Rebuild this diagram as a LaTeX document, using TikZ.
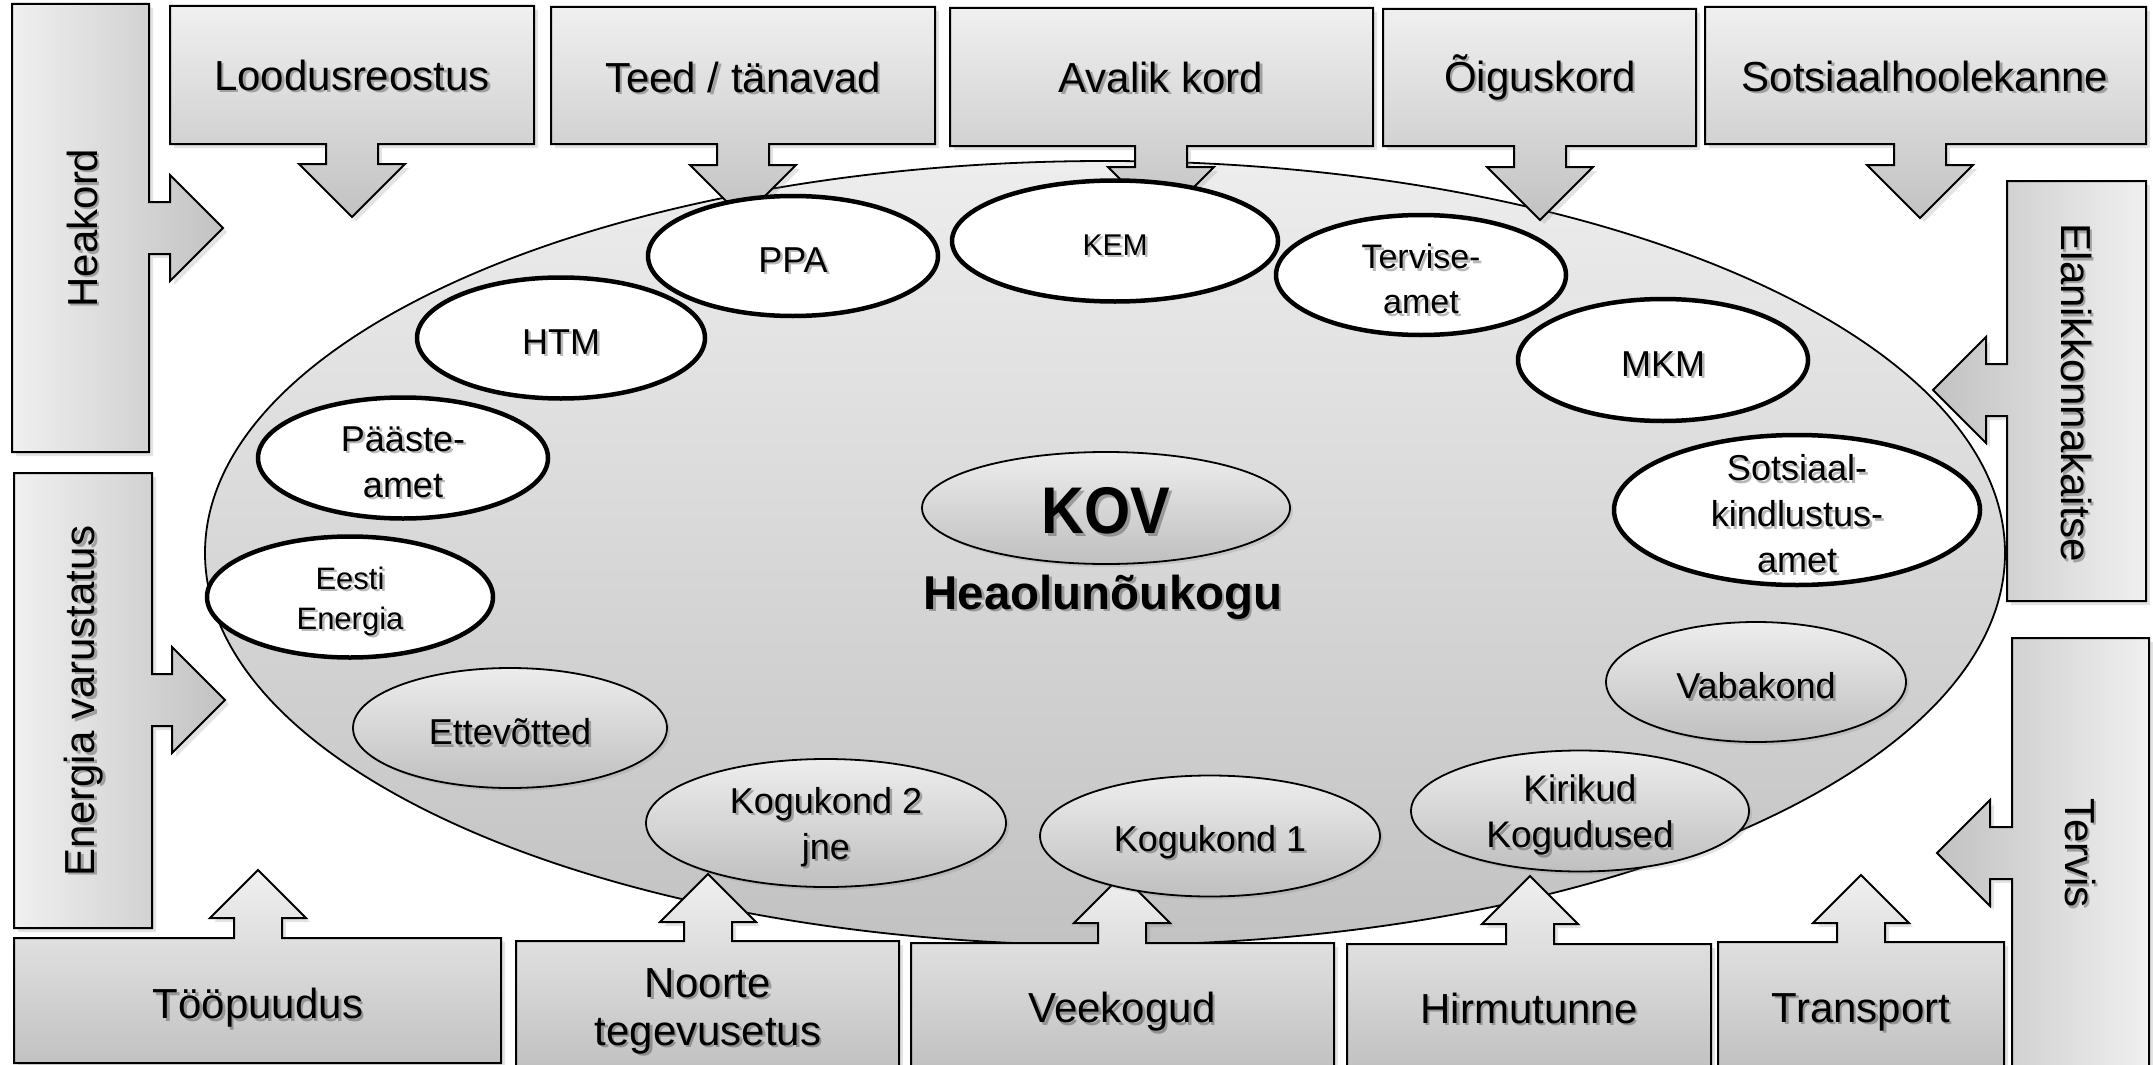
\documentclass[tikz,border=0pt]{standalone}
\usepackage{fontspec}
\setmainfont{Liberation Sans}
\usepackage{graphicx}
\usetikzlibrary{shapes.geometric,shadows}
\definecolor{cLight}{gray}{0.94}
\definecolor{cDark}{gray}{0.76}
\definecolor{eLight}{gray}{0.93}
\definecolor{eDark}{gray}{0.75}
\definecolor{fLight}{gray}{0.93}
\definecolor{fDark}{gray}{0.76}
\tikzset{
  boxshape/.style={draw=black, line width=2pt, line join=miter,
    drop shadow={opacity=0.22, shadow xshift=4pt, shadow yshift=-4pt}},
  boxlbl/.style={align=center, inner sep=0pt, font=\fontsize{42}{48}\selectfont},
  whiteell/.style={ellipse, draw=black, line width=4.5pt, fill=white, inner sep=0pt},
  grayell/.style={ellipse, draw=black, line width=1.8pt, top color=eLight, bottom color=eDark,
    inner sep=0pt, drop shadow={opacity=0.22, shadow xshift=3pt, shadow yshift=-3pt}},
  ell/.style={align=center, inner sep=0pt, yshift=-4pt, font=\fontsize{36}{46}\selectfont},
  txtshadow/.style={text=black, opacity=0.28, xshift=2.5pt, yshift=-2.5pt},
}
% text with a soft drop shadow: style, name, position, text
\newcommand{\shtxt}[4]{%
  \node[txtshadow, #1] (#2-sh) at (#3) {#4};
  \node[#1] (#2) at (#3) {#4};}
% down callout: x1 y1 x2 y2 cx tip
\newcommand{\calDown}[6]{%
  \path[boxshape, top color=cLight, bottom color=cDark]
    (#1,#2) -- (#3,#2) -- (#3,#4) -- ({#5+26},#4) -- ({#5+26},{#6-53}) -- ({#5+53},{#6-53})
    -- (#5,#6) -- ({#5-53},{#6-53}) -- ({#5-26},{#6-53}) -- ({#5-26},#4) -- (#1,#4) -- cycle;}
% up callout: x1 y1 x2 y2 cx tip
\newcommand{\calUp}[6]{%
  \path[boxshape, top color=cLight, bottom color=cDark]
    (#1,#2) -- ({#5-24},#2) -- ({#5-24},{#6+48}) -- ({#5-48},{#6+48}) -- (#5,#6)
    -- ({#5+48},{#6+48}) -- ({#5+24},{#6+48}) -- ({#5+24},#2) -- (#3,#2) -- (#3,#4) -- (#1,#4) -- cycle;}
% right-pointing callout: x1 y1 x2 y2 cy tip
\newcommand{\calRight}[6]{%
  \path[boxshape, left color=cLight, right color=cDark]
    (#1,#2) -- (#3,#2) -- (#3,{#5-26}) -- ({#6-53},{#5-26}) -- ({#6-53},{#5-53}) -- (#6,#5)
    -- ({#6-53},{#5+53}) -- ({#6-53},{#5+26}) -- (#3,{#5+26}) -- (#3,#4) -- (#1,#4) -- cycle;}
% left-pointing callout: x1 y1 x2 y2 cy tip
\newcommand{\calLeft}[6]{%
  \path[boxshape, right color=cLight, left color=cDark]
    (#3,#2) -- (#1,#2) -- (#1,{#5-26}) -- ({#6+53},{#5-26}) -- ({#6+53},{#5-53}) -- (#6,#5)
    -- ({#6+53},{#5+53}) -- ({#6+53},{#5+26}) -- (#1,{#5+26}) -- (#1,#4) -- (#3,#4) -- cycle;}
\begin{document}
\begin{tikzpicture}[x=1pt,y=-1pt]
\useasboundingbox (0,0) rectangle (2153,1065);
% central field
\node[ellipse, draw=black, line width=1.8pt, top color=fLight, bottom color=fDark,
      minimum width=1800pt, minimum height=784pt, inner sep=0pt] (field) at (1105,553) {};

% top callouts
\calDown{170}{6}{534}{144}{352}{217}
\calDown{551}{7}{935}{144}{743}{218}
\calDown{950}{8}{1373}{146}{1161}{220}
\calDown{1383}{9}{1696}{146}{1540}{220}
\calDown{1705}{7}{2146}{144}{1920}{218}
% left callouts
\calRight{12}{4}{149}{452}{228}{223}
\calRight{14}{473}{152}{928}{700}{225}
% right callouts
\calLeft{2007}{181}{2146}{601}{390}{1933}
\calLeft{2012}{638}{2149}{1070}{853}{1937}
% bottom callouts
\calUp{14}{938}{501}{1063}{258}{870}
\calUp{516}{941}{899}{1066}{708}{874}
\calUp{911}{943}{1334}{1066}{1122}{875}
\calUp{1347}{944}{1711}{1066}{1530}{876}
\calUp{1718}{942}{2004}{1066}{1861}{875}

% box labels
\shtxt{boxlbl}{loodus}{352,75}{Loodusreostus}
\shtxt{boxlbl}{teed}{743,77}{Teed / tänavad}
\shtxt{boxlbl}{avalik}{1161,77}{Avalik kord}
\shtxt{boxlbl}{oigus}{1540,77}{Õiguskord}
\shtxt{boxlbl}{sots}{1925,76}{Sotsiaalhoolekanne}
\shtxt{boxlbl, rotate=90}{heakord}{82,228}{Heakord}
\shtxt{boxlbl, rotate=90}{energia}{84,701}{Energia varustatus}
\shtxt{boxlbl, rotate=-90}{elanik}{2076,393}{Elanikkonnakaitse}
\shtxt{boxlbl, rotate=-90}{tervis}{2080,853}{Tervis}
\shtxt{boxlbl}{toopuudus}{258,1008}{Tööpuudus}
\shtxt{boxlbl}{noorte}{708,1011}{Noorte\\tegevusetus}
\shtxt{boxlbl}{veekogud}{1122,1012}{Veekogud}
\shtxt{boxlbl}{hirm}{1529,1008}{Hirmutunne}
\shtxt{boxlbl}{transport}{1861,1012}{Transport}

% white (state) ellipses
\node[whiteell, minimum width=290pt, minimum height=120pt] (ppa) at (793,256) {};
\shtxt{ell}{ppa-t}{ppa}{PPA}
\node[whiteell, minimum width=288pt, minimum height=121pt] (htm) at (561,338) {};
\shtxt{ell}{htm-t}{htm}{HTM}
\node[whiteell, minimum width=290pt, minimum height=121pt] (paaste) at (403,458) {};
\shtxt{ell}{paaste-t}{paaste}{Pääste-\\amet}
\node[whiteell, minimum width=286pt, minimum height=121pt] (eesti) at (350,597) {};
\shtxt{ell, font=\fontsize{31}{40}\selectfont}{eesti-t}{eesti}{Eesti\\Energia}
\node[whiteell, minimum width=326pt, minimum height=121pt] (kem) at (1115,241) {};
\shtxt{ell, font=\fontsize{30}{36}\selectfont}{kem-t}{kem}{KEM}
\node[whiteell, minimum width=290pt, minimum height=120pt] (terviseamet) at (1421,275) {};
\shtxt{ell, font=\fontsize{34}{45}\selectfont}{terviseamet-t}{terviseamet}{Tervise-\\amet}
\node[whiteell, minimum width=290pt, minimum height=122pt] (mkm) at (1663,360) {};
\shtxt{ell}{mkm-t}{mkm}{MKM}
\node[whiteell, minimum width=366pt, minimum height=150pt] (ska) at (1797,510) {};
\shtxt{ell}{ska-t}{ska}{Sotsiaal-\\kindlustus-\\amet}

% grey (community) ellipses
\node[grayell, minimum width=314pt, minimum height=120pt] (ettev) at (510,728) {};
\shtxt{ell}{ettev-t}{ettev}{Ettevõtted}
\node[grayell, minimum width=360pt, minimum height=128pt] (kog2) at (826,823) {};
\shtxt{ell}{kog2-t}{kog2}{Kogukond 2\\jne}
\node[grayell, minimum width=340pt, minimum height=121pt] (kog1) at (1210,836) {};
\shtxt{ell, yshift=-2pt}{kog1-t}{kog1}{Kogukond 1}
\node[grayell, minimum width=338pt, minimum height=121pt] (kirikud) at (1580,811) {};
\shtxt{ell, font=\fontsize{37}{46}\selectfont}{kirikud-t}{kirikud}{Kirikud\\Kogudused}
\node[grayell, minimum width=300pt, minimum height=120pt] (vaba) at (1756,682) {};
\shtxt{ell}{vaba-t}{vaba}{Vabakond}

% KOV
\node[grayell, minimum width=368pt, minimum height=112pt] (kov) at (1106,508) {};
\shtxt{inner sep=0pt, font=\fontsize{66}{66}\selectfont\bfseries}{kovtxt}{1106,511}{\scalebox{0.9}[1]{KOV}}
\shtxt{anchor=base, inner sep=0pt, font=\fontsize{47.5}{48}\selectfont\bfseries}{heaolu}{1103,609}{Heaolunõukogu}
\end{tikzpicture}
\end{document}
